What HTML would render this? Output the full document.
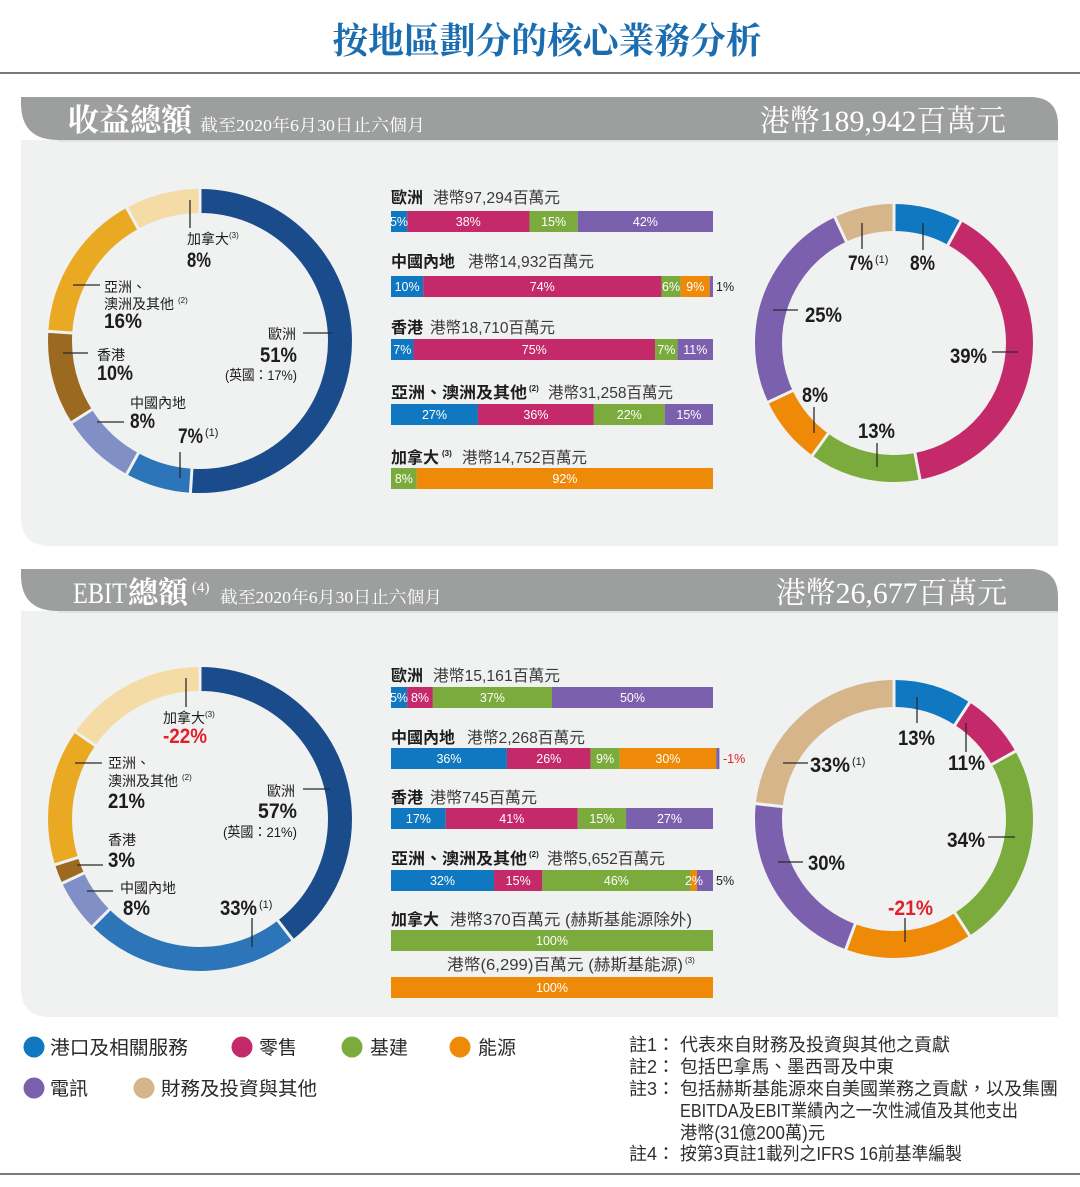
<!DOCTYPE html>
<html><head><meta charset="utf-8"><style>
html,body{margin:0;padding:0;background:#fff;}
svg{display:block;}
.s{font-family:"Liberation Sans","Noto Sans CJK TC",sans-serif;}
.sf{font-family:"Liberation Serif","Noto Serif CJK SC",serif;}
.pct{font-family:"Liberation Sans","Noto Sans CJK TC",sans-serif;font-weight:bold;font-size:21px;fill:#1d1d1d;}
.lb{font-family:"Liberation Sans","Noto Sans CJK TC",sans-serif;font-size:14px;fill:#1d1d1d;}
.sup{font-family:"Liberation Sans",sans-serif;font-size:8px;fill:#1d1d1d;}
.sup2{font-family:"Liberation Sans",sans-serif;font-size:11px;fill:#1d1d1d;}
.bt{font-family:"Liberation Sans",sans-serif;font-size:12.5px;fill:#fff;text-anchor:middle;}
.bl{font-family:"Liberation Sans","Noto Sans CJK TC",sans-serif;font-size:16px;fill:#1d1d1d;font-weight:bold;}
.ba{font-family:"Liberation Sans","Noto Sans CJK TC",sans-serif;font-size:16px;fill:#3a3a3a;}
.lg{font-family:"Liberation Sans","Noto Sans CJK TC",sans-serif;font-size:19px;fill:#2a2a2a;}
.nt{font-family:"Liberation Sans","Noto Sans CJK TC",sans-serif;font-size:18px;fill:#2e2e2e;}
.ld{stroke:#2a2a2a;stroke-width:1.3;}
.sep{stroke:#f0f1f1;stroke-width:3;}
</style></head><body>
<svg width="1080" height="1187" viewBox="0 0 1080 1187" xmlns="http://www.w3.org/2000/svg">
<rect width="1080" height="1187" fill="#fff"/>
<!-- Title -->
<text x="547" y="53" text-anchor="middle" class="sf" font-size="36" font-weight="bold" fill="#1b6db0" textLength="429" lengthAdjust="spacingAndGlyphs">按地區劃分的核心業務分析</text>
<rect x="0" y="72" width="1080" height="2" fill="#7a7a7a"/>

<!-- Section 1 -->
<path d="M21,140 H1058 V546 H50 Q21,546 21,517 Z" fill="#f0f1f1"/>
<path d="M21,97 H1030 Q1058,97 1058,125 V140 H58 Q21,140 21,103 Z" fill="#9d9e9e"/>
<rect x="58" y="140" width="1000" height="2" fill="#e2e3e3"/>
<text x="68" y="131" class="sf" font-size="31" font-weight="bold" fill="#fff" textLength="124" lengthAdjust="spacingAndGlyphs">收益總額</text>
<text x="200" y="131" class="sf" font-size="17" fill="#fff" textLength="225" lengthAdjust="spacingAndGlyphs">截至2020年6月30日止六個月</text>
<text x="760" y="131" class="sf" font-size="30" fill="#fff" textLength="246" lengthAdjust="spacingAndGlyphs">港幣189,942百萬元</text>

<!-- Left donut 1 -->
<g transform="rotate(-90 200 341)" fill="none" stroke-width="24">
<circle cx="200" cy="341" r="140" pathLength="100" stroke="#1a4c8c" stroke-dasharray="51 100"/>
<circle cx="200" cy="341" r="140" pathLength="100" stroke="#2c75b8" stroke-dasharray="7 100" stroke-dashoffset="-51"/>
<circle cx="200" cy="341" r="140" pathLength="100" stroke="#8090c6" stroke-dasharray="8 100" stroke-dashoffset="-58"/>
<circle cx="200" cy="341" r="140" pathLength="100" stroke="#9b6a20" stroke-dasharray="10 100" stroke-dashoffset="-66"/>
<circle cx="200" cy="341" r="140" pathLength="100" stroke="#e9a922" stroke-dasharray="16 100" stroke-dashoffset="-76"/>
<circle cx="200" cy="341" r="140" pathLength="100" stroke="#f5dca6" stroke-dasharray="8 100" stroke-dashoffset="-92"/>
</g>
<line class="sep" x1="200" y1="215" x2="200" y2="187"/>
<line class="sep" x1="192.1" y1="466.8" x2="190.3" y2="494.7"/>
<line class="sep" x1="139.3" y1="451.4" x2="125.8" y2="475.9"/>
<line class="sep" x1="93.6" y1="408.5" x2="70" y2="423.5"/>
<line class="sep" x1="74.25" y1="333.1" x2="46.3" y2="331.3"/>
<line class="sep" x1="139.3" y1="230.6" x2="125.8" y2="206.1"/>
<!-- labels LD1 -->
<line class="ld" x1="190" y1="200" x2="190" y2="228"/>
<text x="187" y="244" class="lb">加拿大</text><text x="229" y="238" class="sup">(3)</text>
<text x="187" y="267" class="pct" textLength="24" lengthAdjust="spacingAndGlyphs">8%</text>
<line class="ld" x1="73" y1="285" x2="100" y2="285"/>
<text x="104" y="292" class="lb">亞洲、</text>
<text x="104" y="309" class="lb">澳洲及其他</text><text x="178" y="303" class="sup">(2)</text>
<text x="104" y="328" class="pct" textLength="38" lengthAdjust="spacingAndGlyphs">16%</text>
<line class="ld" x1="63" y1="353" x2="88" y2="353"/>
<text x="97" y="360" class="lb">香港</text>
<text x="97" y="380" class="pct" textLength="36" lengthAdjust="spacingAndGlyphs">10%</text>
<text x="130" y="408" class="lb">中國內地</text>
<line class="ld" x1="97" y1="422" x2="124" y2="422"/>
<text x="130" y="428" class="pct" textLength="25" lengthAdjust="spacingAndGlyphs">8%</text>
<text x="178" y="443" class="pct" textLength="25" lengthAdjust="spacingAndGlyphs">7%</text><text x="205" y="436" class="sup2">(1)</text>
<line class="ld" x1="180" y1="452" x2="180" y2="478"/>
<text x="296" y="339" class="lb" text-anchor="end">歐洲</text>
<line class="ld" x1="303" y1="333" x2="332" y2="333"/>
<text x="260" y="362" class="pct" textLength="37" lengthAdjust="spacingAndGlyphs">51%</text>
<text x="297" y="380" class="lb" font-size="12.5" text-anchor="end" textLength="72" lengthAdjust="spacingAndGlyphs">(英國：17%)</text>

<!-- Bars section 1 -->
<text x="391" y="203" class="bl">歐洲</text><text x="433" y="203" class="ba" textLength="127" lengthAdjust="spacingAndGlyphs">港幣97,294百萬元</text>
<rect x="391" y="211" width="16.1" height="21" fill="#0f78c0"/>
<rect x="407.1" y="211" width="122.36" height="21" fill="#c42a69"/>
<rect x="529.46" y="211" width="48.3" height="21" fill="#7aab3c"/>
<rect x="577.76" y="211" width="135.24" height="21" fill="#7b60ad"/>
<text x="399" y="226" class="bt">5%</text><text x="468.3" y="226" class="bt">38%</text><text x="553.6" y="226" class="bt">15%</text><text x="645.4" y="226" class="bt">42%</text>

<text x="391" y="267" class="bl">中國內地</text><text x="468" y="267" class="ba" textLength="126" lengthAdjust="spacingAndGlyphs">港幣14,932百萬元</text>
<rect x="391" y="276" width="32.2" height="21" fill="#0f78c0"/>
<rect x="423.2" y="276" width="238.28" height="21" fill="#c42a69"/>
<rect x="661.48" y="276" width="19.32" height="21" fill="#7aab3c"/>
<rect x="680.8" y="276" width="28.98" height="21" fill="#ee8a08"/>
<rect x="709.78" y="276" width="3.22" height="21" fill="#7b60ad"/>
<text x="407.1" y="291" class="bt">10%</text><text x="542.3" y="291" class="bt">74%</text><text x="671.1" y="291" class="bt">6%</text><text x="695.3" y="291" class="bt">9%</text>
<text x="716" y="291" class="bt" style="text-anchor:start;fill:#1d1d1d">1%</text>

<text x="391" y="333" class="bl">香港</text><text x="430" y="333" class="ba" textLength="125" lengthAdjust="spacingAndGlyphs">港幣18,710百萬元</text>
<rect x="391" y="339" width="22.54" height="21" fill="#0f78c0"/>
<rect x="413.54" y="339" width="241.5" height="21" fill="#c42a69"/>
<rect x="655.04" y="339" width="22.54" height="21" fill="#7aab3c"/>
<rect x="677.58" y="339" width="35.42" height="21" fill="#7b60ad"/>
<text x="402.3" y="354" class="bt">7%</text><text x="534.3" y="354" class="bt">75%</text><text x="666.3" y="354" class="bt">7%</text><text x="695.3" y="354" class="bt">11%</text>

<text x="391" y="398" class="bl" textLength="136" lengthAdjust="spacingAndGlyphs">亞洲、澳洲及其他</text><text x="529" y="391" class="sup" font-weight="bold">(2)</text><text x="548" y="398" class="ba" textLength="125" lengthAdjust="spacingAndGlyphs">港幣31,258百萬元</text>
<rect x="391" y="404" width="86.94" height="21" fill="#0f78c0"/>
<rect x="477.94" y="404" width="115.92" height="21" fill="#c42a69"/>
<rect x="593.86" y="404" width="70.84" height="21" fill="#7aab3c"/>
<rect x="664.7" y="404" width="48.3" height="21" fill="#7b60ad"/>
<text x="434.5" y="419" class="bt">27%</text><text x="535.9" y="419" class="bt">36%</text><text x="629.3" y="419" class="bt">22%</text><text x="688.9" y="419" class="bt">15%</text>

<text x="391" y="463" class="bl">加拿大</text><text x="442" y="456" class="sup" font-weight="bold">(3)</text><text x="462" y="463" class="ba" textLength="125" lengthAdjust="spacingAndGlyphs">港幣14,752百萬元</text>
<rect x="391" y="468" width="25.76" height="21" fill="#7aab3c"/>
<rect x="416.76" y="468" width="296.24" height="21" fill="#ee8a08"/>
<text x="403.9" y="483" class="bt">8%</text><text x="564.9" y="483" class="bt">92%</text>

<!-- Right donut 1 -->
<g transform="rotate(-90 894 343)" fill="none" stroke-width="27">
<circle cx="894" cy="343" r="125.5" pathLength="100" stroke="#0f78c0" stroke-dasharray="8 100"/>
<circle cx="894" cy="343" r="125.5" pathLength="100" stroke="#c42a69" stroke-dasharray="39 100" stroke-dashoffset="-8"/>
<circle cx="894" cy="343" r="125.5" pathLength="100" stroke="#7aab3c" stroke-dasharray="13 100" stroke-dashoffset="-47"/>
<circle cx="894" cy="343" r="125.5" pathLength="100" stroke="#ee8a08" stroke-dasharray="8 100" stroke-dashoffset="-60"/>
<circle cx="894" cy="343" r="125.5" pathLength="100" stroke="#7b60ad" stroke-dasharray="25 100" stroke-dashoffset="-68"/>
<circle cx="894" cy="343" r="125.5" pathLength="100" stroke="#d6b58b" stroke-dasharray="7 100" stroke-dashoffset="-93"/>
</g>
<line class="sep" x1="894" y1="233" x2="894" y2="202"/>
<line class="sep" x1="947" y1="246.6" x2="961.9" y2="219.4"/>
<line class="sep" x1="914.6" y1="451.1" x2="920.4" y2="481.5"/>
<line class="sep" x1="829.3" y1="432" x2="811.1" y2="457.1"/>
<line class="sep" x1="794.5" y1="389.8" x2="766.4" y2="403"/>
<line class="sep" x1="847.2" y1="243.5" x2="834" y2="215.4"/>
<line class="ld" x1="862" y1="223" x2="862" y2="249"/>
<text x="848" y="270" class="pct" textLength="25" lengthAdjust="spacingAndGlyphs">7%</text><text x="875" y="263" class="sup2">(1)</text>
<line class="ld" x1="923" y1="223" x2="923" y2="250"/>
<text x="910" y="270" class="pct" textLength="25" lengthAdjust="spacingAndGlyphs">8%</text>
<line class="ld" x1="773" y1="310" x2="798" y2="310"/>
<text x="805" y="322" class="pct" textLength="37" lengthAdjust="spacingAndGlyphs">25%</text>
<text x="950" y="363" class="pct" textLength="37" lengthAdjust="spacingAndGlyphs">39%</text>
<line class="ld" x1="992" y1="352" x2="1018" y2="352"/>
<text x="802" y="402" class="pct" textLength="26" lengthAdjust="spacingAndGlyphs">8%</text>
<line class="ld" x1="814" y1="407" x2="814" y2="433"/>
<text x="858" y="438" class="pct" textLength="37" lengthAdjust="spacingAndGlyphs">13%</text>
<line class="ld" x1="877" y1="443" x2="877" y2="467"/>

<!-- Section 2 -->
<path d="M21,611 H1058 V1017 H50 Q21,1017 21,988 Z" fill="#f0f1f1"/>
<path d="M21,569 H1030 Q1058,569 1058,597 V611 H58 Q21,611 21,575 Z" fill="#9d9e9e"/>
<rect x="58" y="611" width="1000" height="2" fill="#e2e3e3"/>
<text x="73" y="603" class="sf" font-size="30" fill="#fff" textLength="54" lengthAdjust="spacingAndGlyphs">EBIT</text>
<text x="128" y="603" class="sf" font-size="30" font-weight="bold" fill="#fff" textLength="60" lengthAdjust="spacingAndGlyphs">總額</text>
<text x="192" y="592" class="sf" font-size="15" fill="#fff">(4)</text>
<text x="220" y="603" class="sf" font-size="17" fill="#fff" textLength="222" lengthAdjust="spacingAndGlyphs">截至2020年6月30日止六個月</text>
<text x="776" y="603" class="sf" font-size="30" fill="#fff" textLength="231" lengthAdjust="spacingAndGlyphs">港幣26,677百萬元</text>

<!-- Left donut 2 -->
<g transform="rotate(-90 200 819)" fill="none" stroke-width="24">
<circle cx="200" cy="819" r="140" pathLength="100" stroke="#1a4c8c" stroke-dasharray="39.583 100"/>
<circle cx="200" cy="819" r="140" pathLength="100" stroke="#2c75b8" stroke-dasharray="22.917 100" stroke-dashoffset="-39.583"/>
<circle cx="200" cy="819" r="140" pathLength="100" stroke="#8090c6" stroke-dasharray="5.556 100" stroke-dashoffset="-62.5"/>
<circle cx="200" cy="819" r="140" pathLength="100" stroke="#9b6a20" stroke-dasharray="2.083 100" stroke-dashoffset="-68.056"/>
<circle cx="200" cy="819" r="140" pathLength="100" stroke="#e9a922" stroke-dasharray="14.583 100" stroke-dashoffset="-70.139"/>
<circle cx="200" cy="819" r="140" pathLength="100" stroke="#f5dca6" stroke-dasharray="15.278 100" stroke-dashoffset="-84.722"/>
</g>
<line class="sep" x1="200" y1="693" x2="200" y2="665"/>
<line class="sep" x1="276.7" y1="919" x2="293.8" y2="941.2"/>
<line class="sep" x1="110.9" y1="908.1" x2="91.1" y2="927.9"/>
<line class="sep" x1="85.8" y1="872.2" x2="60.4" y2="884.1"/>
<line class="sep" x1="79.8" y1="856.9" x2="53.1" y2="865.3"/>
<line class="sep" x1="96.8" y1="746.7" x2="73.8" y2="730.7"/>
<line class="ld" x1="186" y1="678" x2="186" y2="707"/>
<text x="163" y="723" class="lb">加拿大</text><text x="205" y="717" class="sup">(3)</text>
<text x="163" y="743" class="pct" textLength="44" lengthAdjust="spacingAndGlyphs" style="fill:#e0202a">-22%</text>
<line class="ld" x1="75" y1="763" x2="102" y2="763"/>
<text x="108" y="768" class="lb">亞洲、</text>
<text x="108" y="786" class="lb">澳洲及其他</text><text x="182" y="780" class="sup">(2)</text>
<text x="108" y="808" class="pct" textLength="37" lengthAdjust="spacingAndGlyphs">21%</text>
<text x="108" y="845" class="lb">香港</text>
<line class="ld" x1="77" y1="865" x2="103" y2="865"/>
<text x="108" y="867" class="pct" textLength="27" lengthAdjust="spacingAndGlyphs">3%</text>
<line class="ld" x1="87" y1="891" x2="113" y2="891"/>
<text x="120" y="893" class="lb">中國內地</text>
<text x="123" y="915" class="pct" textLength="27" lengthAdjust="spacingAndGlyphs">8%</text>
<text x="220" y="915" class="pct" textLength="37" lengthAdjust="spacingAndGlyphs">33%</text><text x="259" y="908" class="sup2">(1)</text>
<line class="ld" x1="252" y1="918" x2="252" y2="947"/>
<text x="295" y="796" class="lb" text-anchor="end">歐洲</text>
<line class="ld" x1="303" y1="789" x2="330" y2="789"/>
<text x="258" y="818" class="pct" textLength="39" lengthAdjust="spacingAndGlyphs">57%</text>
<text x="297" y="837" class="lb" font-size="12.5" text-anchor="end" textLength="74" lengthAdjust="spacingAndGlyphs">(英國：21%)</text>

<!-- Bars section 2 -->
<text x="391" y="681" class="bl">歐洲</text><text x="433" y="681" class="ba" textLength="127" lengthAdjust="spacingAndGlyphs">港幣15,161百萬元</text>
<rect x="391" y="687" width="16.1" height="21" fill="#0f78c0"/>
<rect x="407.1" y="687" width="25.76" height="21" fill="#c42a69"/>
<rect x="432.86" y="687" width="119.14" height="21" fill="#7aab3c"/>
<rect x="552" y="687" width="161" height="21" fill="#7b60ad"/>
<text x="399" y="702" class="bt">5%</text><text x="420" y="702" class="bt">8%</text><text x="492.4" y="702" class="bt">37%</text><text x="632.5" y="702" class="bt">50%</text>

<text x="391" y="743" class="bl">中國內地</text><text x="467" y="743" class="ba" textLength="118" lengthAdjust="spacingAndGlyphs">港幣2,268百萬元</text>
<rect x="391" y="748" width="115.92" height="21" fill="#0f78c0"/>
<rect x="506.92" y="748" width="83.72" height="21" fill="#c42a69"/>
<rect x="590.64" y="748" width="28.98" height="21" fill="#7aab3c"/>
<rect x="619.62" y="748" width="96.6" height="21" fill="#ee8a08"/>
<rect x="716.22" y="748" width="3.2" height="21" fill="#7b60ad"/>
<text x="449" y="763" class="bt">36%</text><text x="548.8" y="763" class="bt">26%</text><text x="605.1" y="763" class="bt">9%</text><text x="667.9" y="763" class="bt">30%</text>
<text x="723" y="763" class="bt" style="text-anchor:start;fill:#e0202a">-1%</text>

<text x="391" y="803" class="bl">香港</text><text x="430" y="803" class="ba" textLength="107" lengthAdjust="spacingAndGlyphs">港幣745百萬元</text>
<rect x="391" y="808" width="54.74" height="21" fill="#0f78c0"/>
<rect x="445.74" y="808" width="132.02" height="21" fill="#c42a69"/>
<rect x="577.76" y="808" width="48.3" height="21" fill="#7aab3c"/>
<rect x="626.06" y="808" width="86.94" height="21" fill="#7b60ad"/>
<text x="418.4" y="823" class="bt">17%</text><text x="511.8" y="823" class="bt">41%</text><text x="601.9" y="823" class="bt">15%</text><text x="669.5" y="823" class="bt">27%</text>

<text x="391" y="864" class="bl" textLength="136" lengthAdjust="spacingAndGlyphs">亞洲、澳洲及其他</text><text x="529" y="857" class="sup" font-weight="bold">(2)</text><text x="547" y="864" class="ba" textLength="118" lengthAdjust="spacingAndGlyphs">港幣5,652百萬元</text>
<rect x="391" y="870" width="103.04" height="21" fill="#0f78c0"/>
<rect x="494.04" y="870" width="48.3" height="21" fill="#c42a69"/>
<rect x="542.34" y="870" width="148.12" height="21" fill="#7aab3c"/>
<rect x="690.46" y="870" width="6.44" height="21" fill="#ee8a08"/>
<rect x="696.9" y="870" width="16.1" height="21" fill="#7b60ad"/>
<text x="442.5" y="885" class="bt">32%</text><text x="518.2" y="885" class="bt">15%</text><text x="616.4" y="885" class="bt">46%</text><text x="694" y="885" class="bt">2%</text>
<text x="716" y="885" class="bt" style="text-anchor:start;fill:#1d1d1d">5%</text>

<text x="391" y="925" class="bl">加拿大</text><text x="450" y="925" class="ba" textLength="242" lengthAdjust="spacingAndGlyphs">港幣370百萬元 (赫斯基能源除外)</text>
<rect x="391" y="930" width="322" height="21" fill="#7aab3c"/>
<text x="552" y="945" class="bt">100%</text>
<text x="447" y="970" class="ba" textLength="236" lengthAdjust="spacingAndGlyphs">港幣(6,299)百萬元 (赫斯基能源)</text><text x="685" y="963" class="sup">(3)</text>
<rect x="391" y="977" width="322" height="21" fill="#ee8a08"/>
<text x="552" y="992" class="bt">100%</text>

<!-- Right donut 2 -->
<g transform="rotate(-90 894 819)" fill="none" stroke-width="27">
<circle cx="894" cy="819" r="125.5" pathLength="100" stroke="#0f78c0" stroke-dasharray="9.155 100"/>
<circle cx="894" cy="819" r="125.5" pathLength="100" stroke="#c42a69" stroke-dasharray="7.746 100" stroke-dashoffset="-9.155"/>
<circle cx="894" cy="819" r="125.5" pathLength="100" stroke="#7aab3c" stroke-dasharray="23.944 100" stroke-dashoffset="-16.901"/>
<circle cx="894" cy="819" r="125.5" pathLength="100" stroke="#ee8a08" stroke-dasharray="14.789 100" stroke-dashoffset="-40.845"/>
<circle cx="894" cy="819" r="125.5" pathLength="100" stroke="#7b60ad" stroke-dasharray="21.127 100" stroke-dashoffset="-55.634"/>
<circle cx="894" cy="819" r="125.5" pathLength="100" stroke="#d6b58b" stroke-dasharray="23.239 100" stroke-dashoffset="-76.761"/>
</g>
<line class="sep" x1="894" y1="709" x2="894" y2="678"/>
<line class="sep" x1="953.8" y1="726.7" x2="970.7" y2="700.7"/>
<line class="sep" x1="990.1" y1="765.4" x2="1017.1" y2="750.3"/>
<line class="sep" x1="953.9" y1="911.3" x2="970.7" y2="937.3"/>
<line class="sep" x1="855.9" y1="922.2" x2="845.1" y2="951.3"/>
<line class="sep" x1="784.7" y1="806.9" x2="753.9" y2="803.4"/>
<line class="ld" x1="917" y1="697" x2="917" y2="723"/>
<text x="898" y="745" class="pct" textLength="37" lengthAdjust="spacingAndGlyphs">13%</text>
<line class="ld" x1="966" y1="723" x2="966" y2="752"/>
<text x="948" y="770" class="pct" textLength="37" lengthAdjust="spacingAndGlyphs">11%</text>
<line class="ld" x1="783" y1="763" x2="808" y2="763"/>
<text x="810" y="772" class="pct" textLength="40" lengthAdjust="spacingAndGlyphs">33%</text><text x="852" y="765" class="sup2">(1)</text>
<text x="947" y="847" class="pct" textLength="38" lengthAdjust="spacingAndGlyphs">34%</text>
<line class="ld" x1="988" y1="837" x2="1015" y2="837"/>
<line class="ld" x1="778" y1="862" x2="803" y2="862"/>
<text x="808" y="870" class="pct" textLength="37" lengthAdjust="spacingAndGlyphs">30%</text>
<text x="888" y="915" class="pct" textLength="45" lengthAdjust="spacingAndGlyphs" style="fill:#e0202a">-21%</text>
<line class="ld" x1="905" y1="918" x2="905" y2="942"/>

<!-- Legend -->
<circle cx="34" cy="1047" r="10.5" fill="#0f78c0"/>
<text x="50" y="1054" class="lg" textLength="138" lengthAdjust="spacingAndGlyphs">港口及相關服務</text>
<circle cx="242" cy="1047" r="10.5" fill="#c42a69"/>
<text x="259" y="1054" class="lg">零售</text>
<circle cx="352" cy="1047" r="10.5" fill="#7aab3c"/>
<text x="370" y="1054" class="lg">基建</text>
<circle cx="460" cy="1047" r="10.5" fill="#ee8a08"/>
<text x="478" y="1054" class="lg">能源</text>
<circle cx="34" cy="1088" r="10.5" fill="#7b60ad"/>
<text x="50" y="1095" class="lg">電訊</text>
<circle cx="144" cy="1088" r="10.5" fill="#d6b58b"/>
<text x="161" y="1095" class="lg" textLength="156" lengthAdjust="spacingAndGlyphs">財務及投資與其他</text>

<!-- Notes -->
<text x="629" y="1051" class="nt">註1：</text><text x="680" y="1051" class="nt" textLength="270" lengthAdjust="spacingAndGlyphs">代表來自財務及投資與其他之貢獻</text>
<text x="629" y="1073" class="nt">註2：</text><text x="680" y="1073" class="nt" textLength="214" lengthAdjust="spacingAndGlyphs">包括巴拿馬、墨西哥及中東</text>
<text x="629" y="1095" class="nt">註3：</text><text x="680" y="1095" class="nt" textLength="378" lengthAdjust="spacingAndGlyphs">包括赫斯基能源來自美國業務之貢獻，以及集團</text>
<text x="680" y="1117" class="nt" textLength="338" lengthAdjust="spacingAndGlyphs">EBITDA及EBIT業績內之一次性減值及其他支出</text>
<text x="680" y="1139" class="nt" textLength="145" lengthAdjust="spacingAndGlyphs">港幣(31億200萬)元</text>
<text x="629" y="1160" class="nt">註4：</text><text x="680" y="1160" class="nt" textLength="282" lengthAdjust="spacingAndGlyphs">按第3頁註1載列之IFRS 16前基準編製</text>

<rect x="0" y="1173" width="1080" height="2" fill="#7a7a7a"/>
</svg>
</body></html>
